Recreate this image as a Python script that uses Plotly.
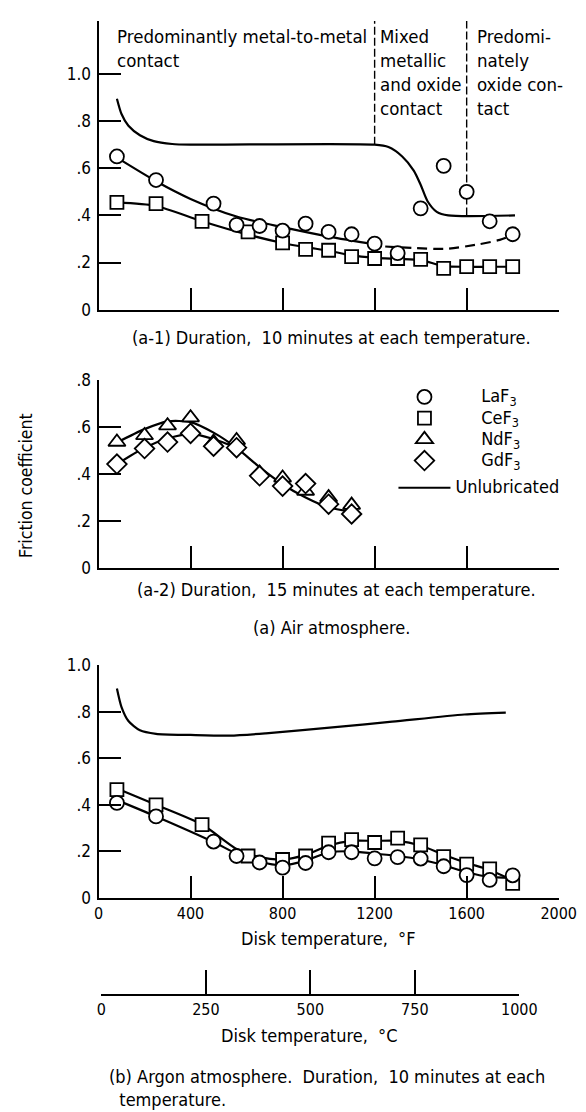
import plotly.graph_objects as go

W, H = 586, 1112

# ---------------- data ----------------
# (a-1) Air atmosphere, 10 minutes at each temperature
a1_la_T = [80, 250, 500, 600, 700, 800, 900, 1000, 1100, 1200, 1300, 1400, 1500, 1600, 1700, 1800]
a1_la_mu = [0.65, 0.55, 0.45, 0.36, 0.355, 0.335, 0.365, 0.33, 0.32, 0.28, 0.24, 0.43, 0.61, 0.50, 0.375, 0.32]
a1_ce_T = [80, 250, 450, 650, 800, 900, 1000, 1100, 1200, 1300, 1400, 1500, 1600, 1700, 1800]
a1_ce_mu = [0.455, 0.45, 0.375, 0.33, 0.283, 0.256, 0.252, 0.225, 0.217, 0.217, 0.213, 0.175, 0.183, 0.183, 0.183]
# fitted curves (a-1)
a1_unlub_T = [80, 100, 130, 180, 240, 320, 400, 1200, 1260, 1320, 1370, 1400, 1430, 1470, 1520, 1810]
a1_unlub_mu = [0.895, 0.83, 0.78, 0.74, 0.715, 0.703, 0.70, 0.70, 0.69, 0.65, 0.59, 0.53, 0.46, 0.415, 0.40, 0.40]
a1_la_fit_T = [80, 250, 400, 600, 800, 1000, 1215]
a1_la_fit_mu = [0.645, 0.545, 0.47, 0.395, 0.35, 0.31, 0.275]
a1_la_dash_T = [1246, 1364, 1507, 1645, 1744, 1806]
a1_la_dash_mu = [0.268, 0.262, 0.258, 0.276, 0.296, 0.318]
a1_ce_fit_T = [80, 250, 450, 650, 800, 900, 1000, 1100, 1200, 1300, 1400, 1500, 1600, 1700, 1800]
a1_ce_fit_mu = [0.455, 0.44, 0.375, 0.318, 0.283, 0.265, 0.25, 0.23, 0.22, 0.215, 0.21, 0.185, 0.182, 0.182, 0.182]
# contact regime boundaries (a-1)
boundary_T = [1200, 1600]
boundary_low = [0.70, 0.40]
a1_ytop = 1.225

# (a-2) Air atmosphere, 15 minutes at each temperature
a2_T = [80, 200, 300, 400, 500, 600, 700, 800, 900, 1000, 1100]
a2_nd_mu = [0.537, 0.565, 0.607, 0.641, 0.537, 0.544, 0.405, 0.384, 0.328, 0.30, 0.268]
a2_gd_mu = [0.443, 0.509, 0.537, 0.574, 0.519, 0.513, 0.393, 0.349, 0.36, 0.272, 0.23]
a2_nd_fit_T = [80, 200, 300, 400, 500, 600, 700, 800, 900, 1000, 1100]
a2_nd_fit_mu = [0.535, 0.592, 0.625, 0.622, 0.577, 0.512, 0.43, 0.357, 0.30, 0.258, 0.24]
a2_gd_fit_T = [80, 200, 300, 400, 500, 600]
a2_gd_fit_mu = [0.443, 0.513, 0.552, 0.572, 0.55, 0.512]

# (b) Argon atmosphere, 10 minutes at each temperature
b_la_T = [80, 250, 500, 600, 700, 800, 900, 1000, 1100, 1200, 1300, 1400, 1500, 1600, 1700, 1800]
b_la_mu = [0.408, 0.35, 0.242, 0.18, 0.152, 0.13, 0.15, 0.196, 0.196, 0.17, 0.175, 0.169, 0.136, 0.098, 0.077, 0.097]
b_ce_T = [80, 250, 450, 650, 800, 900, 1000, 1100, 1200, 1300, 1400, 1500, 1600, 1700, 1800]
b_ce_mu = [0.465, 0.40, 0.315, 0.18, 0.165, 0.18, 0.235, 0.25, 0.238, 0.257, 0.228, 0.177, 0.145, 0.125, 0.062]
b_la_fit_T = [80, 250, 500, 600, 700, 800, 900, 1000, 1100, 1200, 1300, 1400, 1500, 1600, 1700, 1800]
b_la_fit_mu = [0.42, 0.35, 0.24, 0.19, 0.155, 0.14, 0.16, 0.195, 0.20, 0.19, 0.18, 0.165, 0.14, 0.11, 0.09, 0.085]
b_ce_fit_T = [80, 250, 450, 600, 700, 800, 900, 1000, 1100, 1200, 1300, 1400, 1500, 1600, 1700, 1800]
b_ce_fit_mu = [0.47, 0.40, 0.315, 0.21, 0.175, 0.165, 0.185, 0.225, 0.245, 0.245, 0.245, 0.225, 0.185, 0.15, 0.12, 0.075]
b_unlub_T = [80, 100, 130, 180, 250, 400, 570, 727, 1040, 1276, 1590, 1770]
b_unlub_mu = [0.90, 0.82, 0.76, 0.72, 0.705, 0.70, 0.697, 0.707, 0.735, 0.757, 0.788, 0.796]

# ticks
F_ticks = [0, 400, 800, 1200, 1600, 2000]
C_ticks = [0, 250, 500, 750, 1000]
mu_ticks = [0, 0.2, 0.4, 0.6, 0.8, 1.0]
mu_labels = ["0", ".2", ".4", ".6", ".8", "1.0"]

# ---------------- styling ----------------
FONT = "DejaVu Sans Condensed, Liberation Sans Narrow, DejaVu Sans, sans-serif"
BLK = "black"
LW = 2.2


def px_x(p):
    return p / W


def px_y(p):
    return 1 - p / H


X_DOM = [px_x(89), px_x(568)]

fig = go.Figure()


def line(x, y, xa, ya, dash="solid", width=LW, name=None, show=False, rank=None, group=None):
    fig.add_trace(go.Scatter(x=x, y=y, xaxis=xa, yaxis=ya, mode="lines",
                             line=dict(color=BLK, width=width, dash=dash, shape="spline", smoothing=0.7),
                             name=name, showlegend=show, legendrank=rank, legendgroup=group,
                             hoverinfo="skip"))


def marks(x, y, xa, ya, symbol, size, name=None, show=False, rank=None, group=None):
    fig.add_trace(go.Scatter(x=x, y=y, xaxis=xa, yaxis=ya, mode="markers",
                             marker=dict(symbol=symbol, size=size, color="white",
                                         line=dict(color=BLK, width=1.8)),
                             name=name, showlegend=show, legendrank=rank, legendgroup=group,
                             hoverinfo="skip"))


NB = "\u00a0"


def leg(label, pad=5):
    return '<span style="font-size:18px">' + NB * pad + label + "</span>"


# (a-1)
line(a1_unlub_T, a1_unlub_mu, "x", "y", name=leg("Unlubricated", 0), show=True, rank=5, group="u")
line(a1_la_fit_T, a1_la_fit_mu, "x", "y", group="s")
line(a1_la_dash_T, a1_la_dash_mu, "x", "y", dash="10px,6px", group="s")
line(a1_ce_fit_T, a1_ce_fit_mu, "x", "y", group="s")
for bT, bl in zip(boundary_T, boundary_low):
    fig.add_trace(go.Scatter(x=[bT, bT], y=[bl, a1_ytop], xaxis="x", yaxis="y", mode="lines",
                             line=dict(color=BLK, width=1.4, dash="8px,3px"),
                             showlegend=False, hoverinfo="skip"))
marks(a1_ce_T, a1_ce_mu, "x", "y", "square", 13, name=leg("CeF<sub>3</sub>"), show=True, rank=2, group="s")
marks(a1_la_T, a1_la_mu, "x", "y", "circle", 14, name=leg("LaF<sub>3</sub>"), show=True, rank=1, group="s")

# (a-2)
line(a2_nd_fit_T, a2_nd_fit_mu, "x2", "y2", group="s")
line(a2_gd_fit_T, a2_gd_fit_mu, "x2", "y2", group="s")
marks(a2_T, a2_nd_mu, "x2", "y2", "triangle-up", 15, name=leg("NdF<sub>3</sub>"), show=True, rank=3, group="s")
marks(a2_T, a2_gd_mu, "x2", "y2", "diamond", 15, name=leg("GdF<sub>3</sub>"), show=True, rank=4, group="s")

# (b)
line(b_unlub_T, b_unlub_mu, "x3", "y3", group="u")
line(b_la_fit_T, b_la_fit_mu, "x3", "y3", group="s")
line(b_ce_fit_T, b_ce_fit_mu, "x3", "y3", group="s")
marks(b_ce_T, b_ce_mu, "x3", "y3", "square", 13, group="s")
marks(b_la_T, b_la_mu, "x3", "y3", "circle", 14, group="s")

# Celsius scale (dummy invisible trace so the axis is drawn)
fig.add_trace(go.Scatter(x=[C_ticks[0]], y=[0], xaxis="x4", yaxis="y4", mode="markers",
                         marker=dict(opacity=0), showlegend=False, hoverinfo="skip"))

tickfont = dict(family=FONT, size=17, color=BLK)
xtickfont = dict(family=FONT, size=16, color=BLK)
common_x = dict(range=[0, 2000], domain=X_DOM, showline=True, linecolor=BLK, linewidth=2,
                ticks="inside", ticklen=22, tickwidth=2, tickcolor=BLK, showgrid=False,
                zeroline=False, tickvals=F_ticks, fixedrange=True, tickfont=xtickfont)
common_y = dict(showline=True, linecolor=BLK, linewidth=2, ticks="inside", ticklen=22,
                tickwidth=2, tickcolor=BLK, showgrid=False, zeroline=False, fixedrange=True,
                tickfont=tickfont, ticklabelstandoff=2)

fig.update_layout(
    width=W, height=H, margin=dict(l=0, r=0, t=0, b=0),
    paper_bgcolor="white", plot_bgcolor="white",
    font=dict(family=FONT, size=17, color=BLK),
    xaxis=dict(common_x, anchor="y", showticklabels=False),
    yaxis=dict(common_y, domain=[px_y(297), px_y(3)], range=[0, a1_ytop], anchor="x",
               tickvals=mu_ticks, ticktext=mu_labels),
    xaxis2=dict(common_x, anchor="y2", showticklabels=False),
    yaxis2=dict(common_y, domain=[px_y(560), px_y(369)], range=[0, 0.8], anchor="x2",
                tickvals=mu_ticks[:5], ticktext=mu_labels[:5]),
    xaxis3=dict(common_x, anchor="y3", ticklabelstandoff=0),
    yaxis3=dict(common_y, domain=[px_y(896), px_y(659)], range=[0, 1.0], anchor="x3",
                tickvals=mu_ticks, ticktext=mu_labels),
    xaxis4=dict(range=[0, 1000], domain=[px_x(92), px_x(527)], anchor="y4", showline=True,
                linecolor=BLK, linewidth=2, ticks="inside", ticklen=24, tickwidth=2, tickcolor=BLK,
                showgrid=False, zeroline=False, tickvals=C_ticks, fixedrange=True, tickfont=xtickfont,
                ticklabelstandoff=0),
    yaxis4=dict(domain=[px_y(994), px_y(960)], range=[0, 1], anchor="x4", visible=False, fixedrange=True),
    legend=dict(x=px_x(396), y=px_y(370), xanchor="left", yanchor="top", bgcolor="rgba(0,0,0,0)",
                font=dict(family=FONT, size=14, color=BLK), tracegroupgap=6, itemwidth=52,
                traceorder="grouped"),
    showlegend=True,
)

ann = []


def text(t, x, y, xanchor="center", yanchor="middle", size=18, align="center", **kw):
    ann.append(dict(text=t, x=px_x(x), y=px_y(y), xref="paper", yref="paper", xanchor=xanchor,
                    yanchor=yanchor, showarrow=False, align=align,
                    font=dict(family=FONT, size=size, color=BLK), **kw))


# regime labels (a-1)
text("Predominantly metal-to-metal<br>contact", 106, 6, xanchor="left", yanchor="top", align="left", size=18.5)
ann.append(dict(text="Mixed<br>metallic<br>and oxide<br>contact", x=boundary_T[0], xref="x",
                y=px_y(6), yref="paper", xanchor="left", yanchor="top", xshift=3, align="left",
                showarrow=False, font=dict(family=FONT, size=18.5, color=BLK)))
ann.append(dict(text="Predomi-<br>nately<br>oxide con-<br>tact", x=boundary_T[1], xref="x",
                y=px_y(6), yref="paper", xanchor="left", yanchor="top", xshift=8, align="left",
                showarrow=False, font=dict(family=FONT, size=18.5, color=BLK)))

text("(a-1) Duration,  10 minutes at each temperature.", 331, 325)
text("(a-2) Duration,  15 minutes at each temperature.", 337, 582)
text("(a) Air atmosphere.", 332, 621)
text("Friction coefficient", 14, 476, textangle=-90, size=17.5)
text("Disk temperature,  \u00b0F", 328, 937)
text("Disk temperature,  \u00b0C", 309, 1036)
text("(b) Argon atmosphere.  Duration,  10 minutes at each<br>\u00a0\u00a0temperature.", 98, 1065,
     xanchor="left", yanchor="top", align="left")

fig.update_layout(annotations=ann)
fig.write_html("out.html")
